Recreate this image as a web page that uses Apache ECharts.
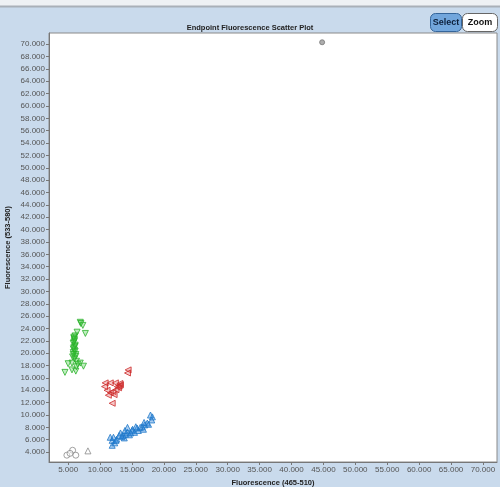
<!DOCTYPE html>
<html>
<head>
<meta charset="utf-8">
<script src="https://cdn.jsdelivr.net/npm/echarts@6/dist/echarts.min.js"></script>
<style>
  html, body { margin: 0; padding: 0; background: #c9daec; }
  #chart { width: 500px; height: 487px; }
</style>
</head>
<body>
<div id="chart"></div>
<script>
// tick values shown on the axes
const xTicks = [5000, 10000, 15000, 20000, 25000, 30000, 35000, 40000, 45000, 50000, 55000, 60000, 65000, 70000];
const yTicks = [4000, 6000, 8000, 10000, 12000, 14000, 16000, 18000, 20000, 22000, 24000, 26000, 28000, 30000,
  32000, 34000, 36000, 38000, 40000, 42000, 44000, 46000, 48000, 50000, 52000, 54000, 56000, 58000, 60000,
  62000, 64000, 66000, 68000, 70000];

// [FAM (465-510), VIC (533-580)] endpoint fluorescence per well
const greenWells = [
  [6900, 25000], [7300, 24500], [6400, 23400], [7700, 23200], [6100, 22800], [5900, 22400], [6000, 22000],
  [5800, 21600], [6100, 21300], [5900, 20900], [6000, 20500], [5800, 20100], [6200, 19800], [5700, 19400],
  [6000, 19100], [6300, 18700], [5600, 18400], [6900, 18400], [7400, 17900], [5000, 18300], [5600, 17300],
  [6200, 17100], [4500, 16900], [6300, 17800], [5900, 22600], [6100, 21100], [5800, 20700], [6200, 19500],
  [6000, 22200], [5900, 21800], [6100, 20300], [5800, 19800], [7000, 24800], [6500, 18200]
];
const redWells = [
  [14400, 17300], [14300, 16800], [10800, 15200], [11600, 15200], [12400, 15200], [13100, 15100],
  [12700, 14600], [12900, 14400], [13200, 14900], [11100, 14000], [11600, 13600], [12000, 13800],
  [11300, 13200], [11900, 11900], [12500, 14100], [10700, 14600], [12200, 13300], [13000, 14700]
];
const blueWells = [
  [11600, 6400], [11900, 5900], [11900, 5100], [12300, 5500], [12600, 6100], [12100, 6400], [13200, 7100],
  [13600, 6700], [13800, 6300], [14000, 6900], [14300, 7200], [14300, 8000], [14600, 6800], [15000, 7500],
  [15100, 7700], [15400, 7200], [15800, 7900], [16000, 7500], [16300, 8000], [16600, 8100], [16800, 7700],
  [17000, 8400], [17400, 8700], [17600, 8500], [18100, 9200], [18200, 9700], [17900, 10000], [13000, 6700],
  [13900, 7500], [15600, 8100], [16900, 8800], [12500, 5900], [13400, 6500], [14800, 7100]
];
const grayWells = [[4800, 3500], [5700, 4300], [6200, 3500], [5300, 3800]];
const grayTriWells = [[8100, 4200]];
const outlierWells = [[44800, 70300]];

const fmt = (v) => String(v).replace(/\B(?=(\d{3})+(?!\d))/g, '.');

const chart = echarts.init(document.getElementById('chart'));

function wells(data, color, fill, rotate, symbol) {
  return {
    type: 'scatter',
    data: data,
    symbol: symbol || 'triangle',
    symbolSize: 6,
    symbolRotate: rotate || 0,
    itemStyle: { color: fill, borderColor: color, borderWidth: 1 },
  };
}

const option = {
  backgroundColor: '#c9daec',
  animation: false,
  title: {
    text: 'Endpoint Fluorescence Scatter Plot',
    left: 'center',
    top: 19,
    textStyle: { fontFamily: 'Liberation Sans', fontSize: 7.5, fontWeight: 'bold', color: '#222' },
  },
  grid: {
    left: 49,
    right: 3,
    top: 33,
    bottom: 25,
    outerBoundsMode: 'none',
    containLabel: false,
    show: true,
    backgroundColor: '#fff',
    borderColor: '#8a8a8a',
    borderWidth: 1,
  },
  xAxis: {
    type: 'value',
    min: 2000,
    max: 72200,
    name: 'Fluorescence (465-510)',
    nameLocation: 'middle',
    nameGap: 17,
    nameMoveOverlap: false,
    nameTextStyle: { fontFamily: 'Liberation Sans', fontSize: 7.5, fontWeight: 'bold', color: '#222' },
    splitLine: { show: false },
    axisLine: { lineStyle: { color: '#777' } },
    axisTick: { customValues: xTicks, length: 3, lineStyle: { color: '#777' } },
    axisLabel: {
      customValues: xTicks,
      formatter: fmt,
      fontFamily: 'Liberation Sans',
      fontSize: 8,
      color: '#555',
      margin: 4,
    },
  },
  yAxis: {
    type: 'value',
    min: 2400,
    max: 71800,
    name: 'Fluorescence (533-580)',
    nameLocation: 'middle',
    nameGap: 37,
    nameMoveOverlap: false,
    nameTextStyle: { fontFamily: 'Liberation Sans', fontSize: 7.5, fontWeight: 'bold', color: '#222' },
    splitLine: { show: false },
    axisLine: { lineStyle: { color: '#777' } },
    axisTick: { customValues: yTicks, length: 3, lineStyle: { color: '#777' } },
    axisLabel: {
      customValues: yTicks,
      formatter: fmt,
      fontFamily: 'Liberation Sans',
      fontSize: 8,
      color: '#555',
      margin: 4,
    },
  },
  graphic: [
    { type: 'rect', shape: { x: 0, y: 0, width: 500, height: 6 }, style: { fill: '#eef1f4' }, silent: true },
    { type: 'line', shape: { x1: 0, y1: 6.5, x2: 500, y2: 6.5 }, style: { stroke: '#a9b0b8', lineWidth: 2 }, silent: true },
    {
      type: 'group',
      left: 430,
      top: 13,
      children: [
        { type: 'rect', shape: { x: 0, y: 0, width: 31, height: 18, r: 5 }, style: { fill: '#72a6dc', stroke: '#35659a', lineWidth: 1 } },
        { type: 'text', x: 15.5, y: 9, style: { text: 'Select', fill: '#0c1f3a', font: 'bold 9px Liberation Sans', align: 'center', verticalAlign: 'middle' } },
        { type: 'rect', shape: { x: 32, y: 0, width: 35, height: 18, r: 5 }, style: { fill: '#fff', stroke: '#666', lineWidth: 1 } },
        { type: 'text', x: 49.5, y: 9, style: { text: 'Zoom', fill: '#111', font: 'bold 9px Liberation Sans', align: 'center', verticalAlign: 'middle' } },
      ],
    },
  ],
  series: [
    wells(greenWells, '#2cb12c', 'rgba(60,200,60,0.4)', 180),
    wells(redWells, '#cc2a2a', 'rgba(220,60,60,0.35)', 90),
    wells(blueWells, '#1f78c8', 'rgba(40,130,220,0.5)', 0),
    wells(grayWells, '#8a8a8a', 'rgba(255,255,255,0.6)', 0, 'circle'),
    wells(grayTriWells, '#8a8a8a', 'rgba(255,255,255,0.6)', 0),
    Object.assign(wells(outlierWells, '#777', '#999', 0, 'circle'), { symbolSize: 5 }),
  ],
};

chart.setOption(option);
</script>
</body>
</html>
